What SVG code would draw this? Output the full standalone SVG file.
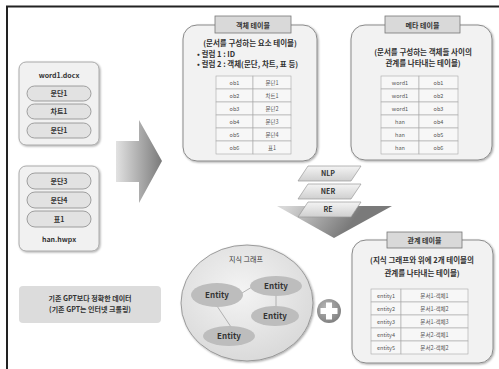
<svg xmlns="http://www.w3.org/2000/svg" width="499" height="369" viewBox="0 0 499 369">
<defs>
<linearGradient id="gArrow" gradientUnits="userSpaceOnUse" x1="116" y1="0" x2="162" y2="0"><stop offset="0" stop-color="#e2e2e2"/><stop offset="1" stop-color="#7a7a7a"/></linearGradient>
<linearGradient id="gDown" gradientUnits="userSpaceOnUse" x1="290" y1="200" x2="340" y2="238"><stop offset="0" stop-color="#d8d8d8"/><stop offset="1" stop-color="#7a7a7a"/></linearGradient>
<linearGradient id="gPara" x1="0" y1="0" x2="0" y2="1"><stop offset="0" stop-color="#f4f4f4"/><stop offset="1" stop-color="#cfcfcf"/></linearGradient>
<radialGradient id="gCircle" cx="0.45" cy="0.4" r="0.6"><stop offset="0" stop-color="#f4f4f4"/><stop offset="1" stop-color="#dadada"/></radialGradient>
<radialGradient id="gPlus" cx="0.4" cy="0.35" r="0.7"><stop offset="0" stop-color="#b8b8b8"/><stop offset="1" stop-color="#7e7e7e"/></radialGradient>
<filter id="sh" x="-10%" y="-10%" width="120%" height="120%"><feDropShadow dx="1" dy="1" stdDeviation="0.8" flood-color="#000" flood-opacity="0.35"/></filter>
</defs>
<style>
text{font-family:"Noto Sans CJK KR","Noto Sans",sans-serif;text-anchor:middle;fill:#333}
.box{fill:#f2f2f2;stroke:#8a8a8a;stroke-width:1}
.lbox{fill:#f1f1f1;stroke:#999;stroke-width:0.8}
.pill{fill:#e2e2e2;stroke:#8c8c8c;stroke-width:0.8}
.tab{fill:#d9d9d9;stroke:#777;stroke-width:0.8}
.cell{fill:#f7f7f7;stroke:#a8a8a8;stroke-width:0.6}
.t7{font-size:7px;font-weight:bold}
.t75{font-size:7.5px;font-weight:bold}
.tc{font-size:5.5px;fill:#555}
.ent{fill:#bdbdbd;stroke:none}
.et{font-size:8px;font-weight:bold;fill:#333}
.para{fill:url(#gPara);stroke:#999;stroke-width:0.7}
.edge{stroke:#8a8a8a;stroke-width:0.6;fill:none}
</style>
<rect width="499" height="369" fill="#fff"/>
<path d="M7,369 V6.5 H499" fill="none" stroke="#222" stroke-width="2"/>

<g id="word1">
<rect class="lbox" x="19" y="62" width="80" height="83" rx="7" filter="url(#sh)"/>
<text class="t7" x="59" y="78">word1.docx</text>
<rect class="pill" x="27" y="86" width="64" height="15" rx="7.5"/>
<text class="t7" x="59" y="96">문단1</text>
<rect class="pill" x="27" y="104" width="64" height="15" rx="7.5"/>
<text class="t7" x="59" y="114">차트1</text>
<rect class="pill" x="27" y="123" width="64" height="15" rx="7.5"/>
<text class="t7" x="59" y="133">문단1</text>
</g>

<g id="han">
<rect class="lbox" x="19" y="166" width="80" height="85" rx="7" filter="url(#sh)"/>
<rect class="pill" x="27" y="173" width="64" height="16" rx="8"/>
<text class="t7" x="59" y="183.5">문단3</text>
<rect class="pill" x="27" y="192" width="64" height="16" rx="8"/>
<text class="t7" x="59" y="202.5">문단4</text>
<rect class="pill" x="27" y="211" width="64" height="16" rx="8"/>
<text class="t7" x="59" y="221.5">표1</text>
<text class="t7" x="59" y="242">han.hwpx</text>
</g>

<g id="note">
<rect x="19" y="286" width="142" height="37" rx="4" fill="#dcdcdc"/>
<text class="t7" x="90" y="301">기존 GPT보다 정확한 데이터</text>
<text class="t7" x="90" y="312">(기존 GPT는 인터넷 크롤링)</text>
</g>

<g id="bigArrow">
<path d="M116,141 H139 V120 L162,161 L139,203 V182 H116 Z" fill="url(#gArrow)"/>
</g>

<g id="objTable">
<rect class="box" x="183" y="25" width="134" height="136" rx="14" filter="url(#sh)"/>
<rect class="tab" x="215" y="16" width="76" height="17"/>
<text class="t7" x="253" y="27.5">객체 테이블</text>
<text class="t75" x="250" y="46" >(문서를 구성하는 요소 테이블)</text>
<text class="t75" x="197" y="57" style="text-anchor:start">• 컬럼 1 : ID</text>
<text class="t75" x="197" y="66.5" style="text-anchor:start">• 컬럼 2 : 객체(문단, 차트, 표 등)</text>
<g>
<rect class="cell" x="216" y="76" width="37" height="13"/><rect class="cell" x="253" y="76" width="38" height="13"/>
<rect class="cell" x="216" y="89" width="37" height="13"/><rect class="cell" x="253" y="89" width="38" height="13"/>
<rect class="cell" x="216" y="102" width="37" height="13"/><rect class="cell" x="253" y="102" width="38" height="13"/>
<rect class="cell" x="216" y="115" width="37" height="13"/><rect class="cell" x="253" y="115" width="38" height="13"/>
<rect class="cell" x="216" y="128" width="37" height="13"/><rect class="cell" x="253" y="128" width="38" height="13"/>
<rect class="cell" x="216" y="141" width="37" height="13"/><rect class="cell" x="253" y="141" width="38" height="13"/>
<text class="tc" x="234.5" y="84.5">ob1</text><text class="tc" x="272" y="84.5">문단1</text>
<text class="tc" x="234.5" y="97.5">ob2</text><text class="tc" x="272" y="97.5">차트1</text>
<text class="tc" x="234.5" y="110.5">ob3</text><text class="tc" x="272" y="110.5">문단2</text>
<text class="tc" x="234.5" y="123.5">ob4</text><text class="tc" x="272" y="123.5">문단3</text>
<text class="tc" x="234.5" y="136.5">ob5</text><text class="tc" x="272" y="136.5">문단4</text>
<text class="tc" x="234.5" y="149.5">ob6</text><text class="tc" x="272" y="149.5">표1</text>
</g>
</g>

<g id="metaTable">
<rect class="box" x="351" y="25" width="141" height="135" rx="14" filter="url(#sh)"/>
<rect class="tab" x="385" y="16" width="75" height="17"/>
<text class="t7" x="422.5" y="27.5">메타 테이블</text>
<text class="t75" x="423" y="55">(문서를 구성하는 객체들 사이의</text>
<text class="t75" x="423" y="66">관계를 나타내는 테이블)</text>
<g>
<rect class="cell" x="381" y="76" width="38" height="13"/><rect class="cell" x="419" y="76" width="39" height="13"/>
<rect class="cell" x="381" y="89" width="38" height="13"/><rect class="cell" x="419" y="89" width="39" height="13"/>
<rect class="cell" x="381" y="102" width="38" height="13"/><rect class="cell" x="419" y="102" width="39" height="13"/>
<rect class="cell" x="381" y="115" width="38" height="13"/><rect class="cell" x="419" y="115" width="39" height="13"/>
<rect class="cell" x="381" y="128" width="38" height="13"/><rect class="cell" x="419" y="128" width="39" height="13"/>
<rect class="cell" x="381" y="141" width="38" height="13"/><rect class="cell" x="419" y="141" width="39" height="13"/>
<text class="tc" x="400" y="84.5">word1</text><text class="tc" x="438.5" y="84.5">ob1</text>
<text class="tc" x="400" y="97.5">word1</text><text class="tc" x="438.5" y="97.5">ob2</text>
<text class="tc" x="400" y="110.5">word1</text><text class="tc" x="438.5" y="110.5">ob3</text>
<text class="tc" x="400" y="123.5">han</text><text class="tc" x="438.5" y="123.5">ob4</text>
<text class="tc" x="400" y="136.5">han</text><text class="tc" x="438.5" y="136.5">ob5</text>
<text class="tc" x="400" y="149.5">han</text><text class="tc" x="438.5" y="149.5">ob6</text>
</g>
</g>

<g id="process">
<polygon points="277,206 392,206 334,238" fill="url(#gDown)"/>
<polygon class="para" points="308,166 361,166 351,181 298,181"/>
<text class="t7" x="328" y="176">NLP</text>
<polygon class="para" points="308,184 361,184 351,199 298,199"/>
<text class="t7" x="328" y="194">NER</text>
<polygon class="para" points="308,202 361,202 351,217 298,217"/>
<text class="t7" x="328" y="212">RE</text>
</g>

<g id="graph">
<ellipse cx="247" cy="303" rx="66" ry="58" fill="url(#gCircle)" stroke="#888" stroke-width="0.8" filter="url(#sh)"/>
<text class="t7" x="246" y="262" style="font-weight:normal">지식 그래프</text>
<g id="edges">
<line class="edge" x1="242" y1="293" x2="252" y2="287"/>
<line class="edge" x1="276" y1="295" x2="276" y2="307"/>
<line class="edge" x1="217" y1="306" x2="231" y2="327"/>
</g>
<g id="e1"><ellipse class="ent" cx="217" cy="295" rx="26" ry="12"/><text class="et" x="217" y="298">Entity</text></g>
<g id="e2"><ellipse class="ent" cx="276" cy="286" rx="26" ry="10"/><text class="et" x="276" y="289">Entity</text></g>
<g id="e3"><ellipse class="ent" cx="275" cy="316" rx="24" ry="10"/><text class="et" x="275" y="319">Entity</text></g>
<g id="e4"><ellipse class="ent" cx="229" cy="336" rx="26" ry="10"/><text class="et" x="229" y="339">Entity</text></g>
</g>

<g id="plus">
<circle cx="329" cy="311" r="12" fill="url(#gPlus)"/>
<path d="M326,302.5 H332 V308 H337.5 V314 H332 V319.5 H326 V314 H320.5 V308 H326 Z" fill="#fff"/>
</g>

<g id="relTable">
<rect class="box" x="352" y="240" width="141" height="123" rx="14" filter="url(#sh)"/>
<rect class="tab" x="387" y="232" width="75" height="16"/>
<text class="t7" x="424.5" y="243">관계 테이블</text>
<text class="t75" x="422" y="263">(지식 그래프와 위에 2개 테이블의</text>
<text class="t75" x="422" y="276">관계를 나타내는 테이블)</text>
<g>
<rect class="cell" x="371" y="289" width="30" height="13"/><rect class="cell" x="401" y="289" width="67" height="13"/>
<rect class="cell" x="371" y="302" width="30" height="13"/><rect class="cell" x="401" y="302" width="67" height="13"/>
<rect class="cell" x="371" y="315" width="30" height="13"/><rect class="cell" x="401" y="315" width="67" height="13"/>
<rect class="cell" x="371" y="328" width="30" height="13"/><rect class="cell" x="401" y="328" width="67" height="13"/>
<rect class="cell" x="371" y="341" width="30" height="13"/><rect class="cell" x="401" y="341" width="67" height="13"/>
<text class="tc" x="386" y="297.5">entity1</text><text class="tc" x="434.5" y="297.5">문서1-객체1</text>
<text class="tc" x="386" y="310.5">entity2</text><text class="tc" x="434.5" y="310.5">문서1-객체2</text>
<text class="tc" x="386" y="323.5">entity3</text><text class="tc" x="434.5" y="323.5">문서1-객체3</text>
<text class="tc" x="386" y="336.5">entity4</text><text class="tc" x="434.5" y="336.5">문서2-객체1</text>
<text class="tc" x="386" y="349.5">entity5</text><text class="tc" x="434.5" y="349.5">문서2-객체2</text>
</g>
</g>
</svg>
